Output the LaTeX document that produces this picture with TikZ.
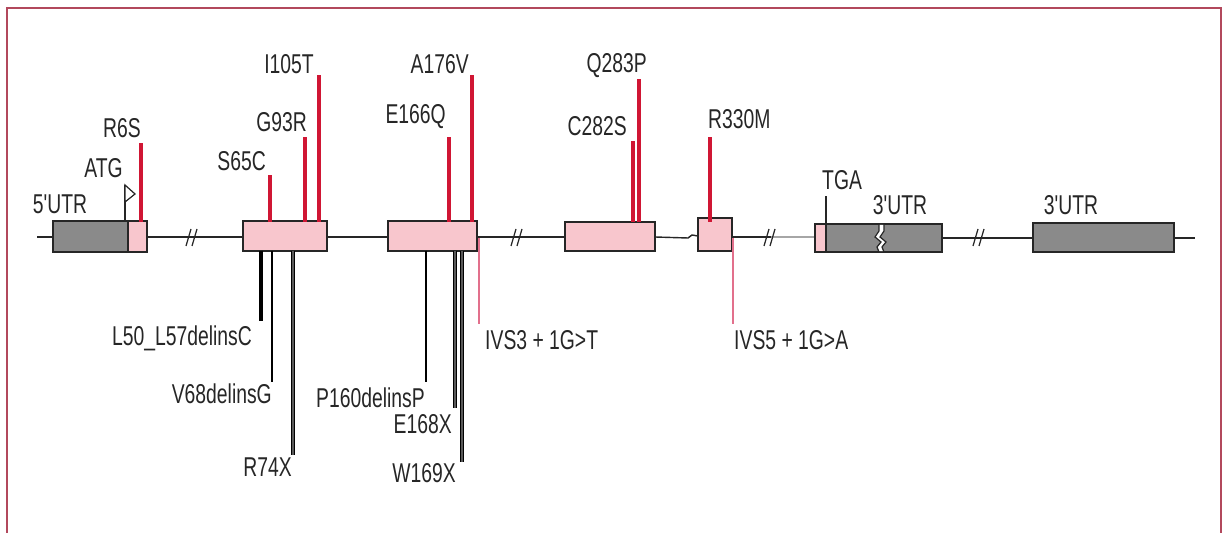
\documentclass[tikz,border=0pt]{standalone}
\usepackage{fontspec}
\newfontfamily\genefont[FakeStretch=0.71]{Liberation Sans}
\definecolor{mutred}{RGB}{208,22,52}
\definecolor{exonpink}{RGB}{248,198,205}
\definecolor{utrgray}{RGB}{138,138,138}
\definecolor{splicepink}{RGB}{226,112,140}
\definecolor{framered}{RGB}{178,72,92}
\tikzset{
  lab/.style={font=\genefont\fontsize{15.5}{17}\selectfont, inner sep=0.5pt, text=black!85},
  exon/.style={draw=black!85, line width=1.1pt, fill=exonpink},
  utr/.style={draw=black!85, line width=1.1pt, fill=utrgray},
  backbone/.style={black!85, line width=0.8pt},
  brk/.style={black!85, line width=0.7pt},
  missense/.style={mutred, line width=2.3pt},
  splice/.style={splicepink, line width=1.3pt},
  indelwide/.style={black, line width=2.3pt},
  indelmid/.style={black, line width=1.7pt},
  indelthin/.style={black, line width=1.1pt},
  stopgain/.style={draw=black, line width=0.8pt, double=black!65, double distance=1.2pt}
}
\begin{document}
\begin{tikzpicture}[x=0.02cm, y=-0.02cm]
    \useasboundingbox (0,0) rectangle (1224,533);
    % frame
    \draw[framered, line width=1.2pt] (7,533) -- (7,8) -- (1221,8) -- (1221,533);
    % ── backbone ─────────────────────────────────────────
    \draw[backbone] (37,237) -- (243,237);
    \draw[backbone] (327,237) -- (388,237);
    \draw[backbone] (477,237) -- (565,237);
    \draw[backbone] (655,237) -- (688,238) -- (692,235) -- (698,236);
    \draw[backbone] (732,237) -- (771,237);
    \draw[backbone, black!35] (771,237) -- (815,237);
    \draw[backbone] (942,238) -- (1033,238);
    \draw[backbone] (1174,238) -- (1195,238);
    % intron breaks
    \foreach \bx in {193,518,771,980} {
        \draw[brk] (\bx-7,246) -- (\bx-2,229);
        \draw[brk] (\bx-1,246) -- (\bx+4,229);
    }
    % ── exons ────────────────────────────────────────────
    \draw[utr] (53,221) rectangle (128,252);
    \draw[exon] (128,221) rectangle (147,252);
    \draw[exon] (243,221) rectangle (327,251);
    \draw[exon] (388,221) rectangle (477,251);
    \draw[exon] (565,222) rectangle (655,251);
    \draw[exon] (698,218) rectangle (732,251);
    \draw[exon] (815,224) rectangle (826,252);
    \draw[utr] (826,224) rectangle (942,252);
    \draw[utr] (1033,223) rectangle (1174,252);
    % cut in the last exon
    \fill[white] (879,224.8) -- (879,231) -- (875,237) -- (881,242) -- (877,247) -- (879,251.2)
        -- (884,251.2) -- (882,247) -- (886,242) -- (880,237) -- (884,231) -- (884,224.8) -- cycle;
    \draw[brk] (879,224) -- (879,231) -- (875,237) -- (881,242) -- (877,247) -- (879,252);
    \draw[brk] (884,224) -- (884,231) -- (880,237) -- (886,242) -- (882,247) -- (884,252);
    % start and stop codons
    \coordinate (atg-b) at (125,221);
    \coordinate (atg-t) at (125,185);
    \draw[brk] (atg-b) -- (atg-t);
    \draw[brk, fill=white] (atg-t) -- (135,194) -- (125,202) -- cycle;
    \node[lab, anchor=south east] (atg) at (124,179) {ATG};
    \coordinate (tga-b) at (826,224);
    \coordinate (tga-t) at (826,196);
    \draw[brk] (tga-b) -- (tga-t);
    \node[lab, anchor=south west] (tga) at (821,191) {TGA};
    % UTR labels
    \node[lab] (utr5) at (60,204) {5'UTR};
    \node[lab] (utr3a) at (900,205) {3'UTR};
    \node[lab] (utr3b) at (1071,205) {3'UTR};
    % ── missense, above ──────────────────────────────────
    \foreach \nm/\x/\y/\dx/\dy/\an/\txt in {
        r6s/141/143/1/-4/south east/R6S,
        s65c/270/175/-3/-3/south east/S65C,
        g93r/305/137/3/-4/south east/G93R,
        i105t/319/75/-4/0/south east/I105T,
        e166q/449/137/-2/-7/south east/E166Q,
        a176v/472/75/-2/0/south east/A176V,
        c282s/633/141/-5/-4/south east/C282S,
        q283p/639/79/9/0/south east/Q283P,
        r330m/710/137/-3/-7/south west/R330M} {
        \coordinate (\nm-b) at (\x,222);
        \coordinate (\nm-t) at (\x,\y);
        \draw[missense] (\nm-b) -- (\nm-t);
        \node[lab, anchor=\an] (\nm) at (\x+\dx,\y+\dy) {\txt};
    }
    % ── truncating, below ────────────────────────────────
    \foreach \nm/\x/\y/\dx/\dy/\sty/\txt in {
        l50/261/321/-8/4/indelwide/L50\_L57delinsC,
        v68/272/382/1/1/indelmid/V68delinsG,
        r74x/293/455/0/2/stopgain/R74X,
        p160/426/382/0/5/indelthin/P160delinsP,
        e168x/455/408/-2/5/stopgain/E168X,
        w169x/462/462/-5/0/stopgain/W169X} {
        \coordinate (\nm-b) at (\x,251);
        \coordinate (\nm-t) at (\x,\y);
        \draw[\sty] (\nm-b) -- (\nm-t);
        \node[lab, anchor=north east] (\nm) at (\x+\dx,\y+\dy) {\txt};
    }
    % splice sites
    \foreach \nm/\x/\dx/\txt in {ivs3/479/5/IVS3 + 1G>T, ivs5/733/0/IVS5 + 1G>A} {
        \coordinate (\nm-b) at (\x,238);
        \coordinate (\nm-t) at (\x,324);
        \draw[splice] (\nm-b) -- (\nm-t);
        \node[lab, anchor=north west] (\nm) at (\x+\dx,329) {\txt};
    }
\end{tikzpicture}
\end{document}
